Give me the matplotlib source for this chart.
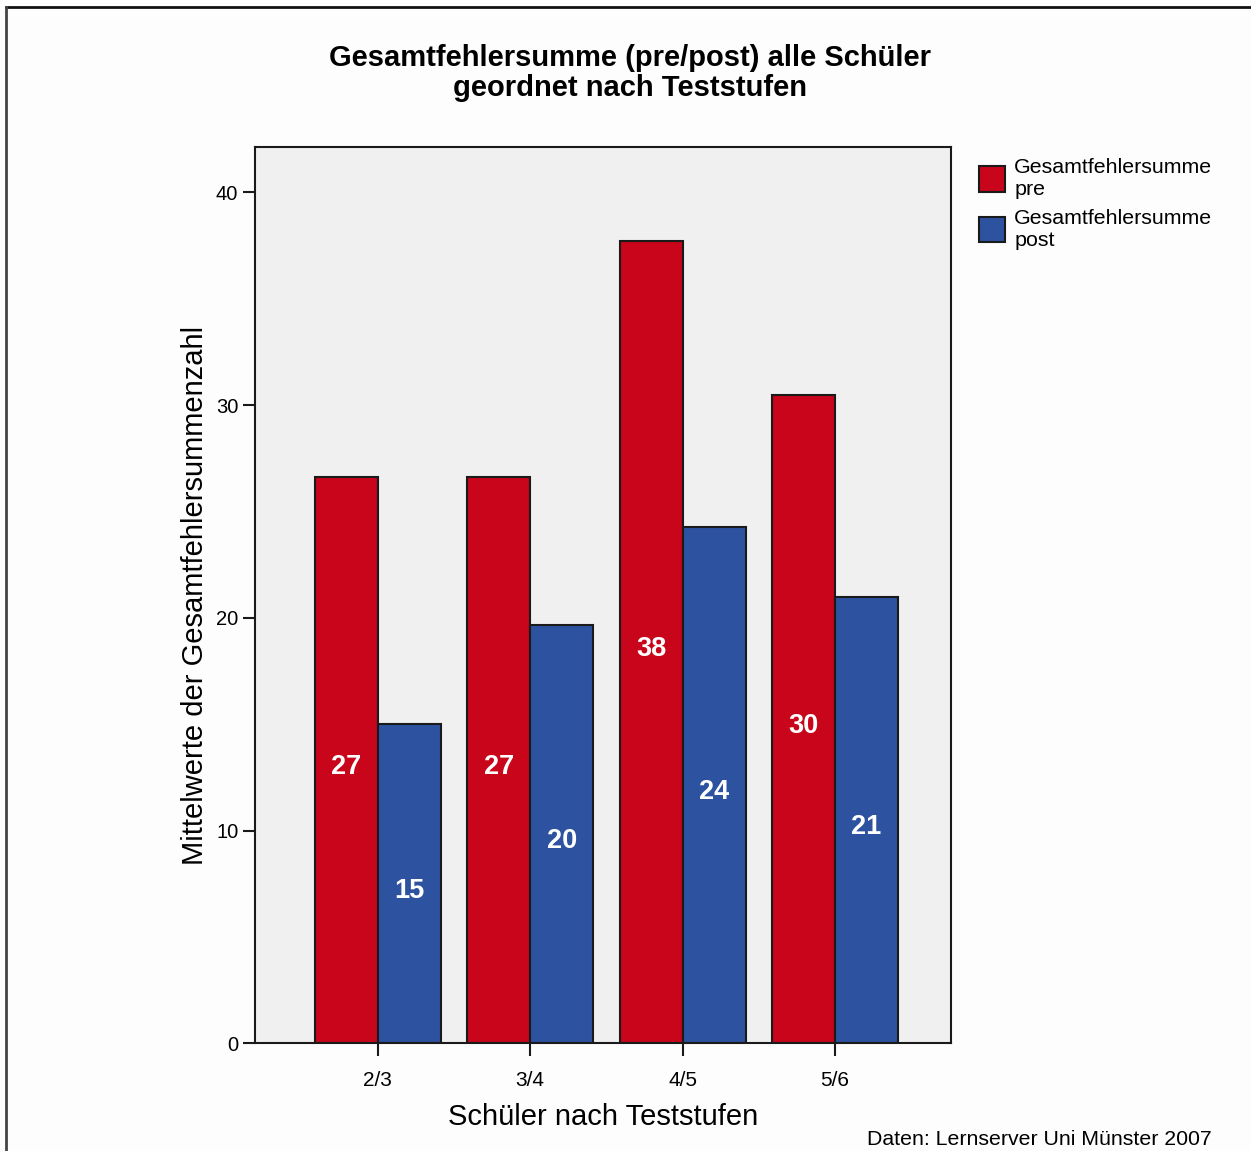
import matplotlib
matplotlib.use("Agg")
import matplotlib.pyplot as plt
from matplotlib.lines import Line2D
from matplotlib.patches import Patch
import numpy as np

plt.rcParams['font.family'] = ['Liberation Sans', 'DejaVu Sans']

# Mean total error sums per test level
categories = ["2/3", "3/4", "4/5", "5/6"]
pre_values = [26.63, 26.63, 37.72, 30.48]
post_values = [14.99, 19.65, 24.25, 20.99]
series_names = ["Gesamtfehlersumme\npre", "Gesamtfehlersumme\npost"]
y_ticks = [0, 10, 20, 30, 40]

red = "#C8051A"
blue = "#2C52A0"

fig = plt.figure(figsize=(12.51, 11.51), dpi=100, facecolor="#FDFDFD")
ax = fig.add_axes([0.2038, 0.0936, 0.5564, 0.7787])
ax.set_facecolor("#F0F0F0")

x = np.arange(len(categories))
w = 0.413
bars_pre = ax.bar(x - w / 2, pre_values, width=w, color=red, edgecolor="#1a1a1a", linewidth=1.5)
bars_post = ax.bar(x + w / 2, post_values, width=w, color=blue, edgecolor="#1a1a1a", linewidth=1.5)

for bars, vals in ((bars_pre, pre_values), (bars_post, post_values)):
    for b, v in zip(bars, vals):
        ax.annotate(f"{v:.0f}", (b.get_x() + b.get_width() / 2, v / 2),
                    xytext=(0, -5), textcoords="offset points",
                    ha="center", va="center", color="white", fontsize=19.5, fontweight="bold")

ax.set_xlim(-0.805, 3.76)
ax.set_ylim(0, 42.13)
ax.set_xticks(x)
ax.set_xticklabels(categories, fontsize=15)
ax.set_yticks(y_ticks)
ax.set_yticklabels([str(t) for t in y_ticks], fontsize=14.5)
ax.tick_params(axis="both", direction="out", length=9, width=1.5, color="#1a1a1a")
ax.tick_params(axis="y", pad=3)
ax.tick_params(axis="x", pad=11)
for s in ax.spines.values():
    s.set_linewidth(1.5)
    s.set_color("#1a1a1a")

ax.set_xlabel("Schüler nach Teststufen", fontsize=21, labelpad=9)
ax.set_ylabel("Mittelwerte der Gesamtfehlersummenzahl", fontsize=21, labelpad=5)

fig.text(0.5036, 0.9366, "Gesamtfehlersumme (pre/post) alle Schüler\ngeordnet nach Teststufen",
         ha="center", va="center", fontsize=21, fontweight="bold", linespacing=1.1)

handles = [Patch(facecolor=red, edgecolor="#1a1a1a", linewidth=1.5),
           Patch(facecolor=blue, edgecolor="#1a1a1a", linewidth=1.5)]
fig.legend(handles, series_names, loc="upper left", bbox_to_anchor=(0.7826, 0.8626),
           frameon=False, fontsize=15.4, handlelength=1.2, handleheight=1.45,
           handletextpad=0.45, labelspacing=0.45, borderaxespad=0, borderpad=0)

fig.text(0.969, 0.002, "Daten: Lernserver Uni Münster 2007", ha="right", va="bottom", fontsize=15.3)

# frame lines along the top and left edges
fig.add_artist(Line2D([0.0048, 1.0], [0.9935, 0.9935], transform=fig.transFigure, color="#111111", linewidth=2))
fig.add_artist(Line2D([0.0048, 0.0048], [0.0, 0.9935], transform=fig.transFigure, color="#444444", linewidth=2))

fig.savefig("out.png", dpi=100, facecolor=fig.get_facecolor())
